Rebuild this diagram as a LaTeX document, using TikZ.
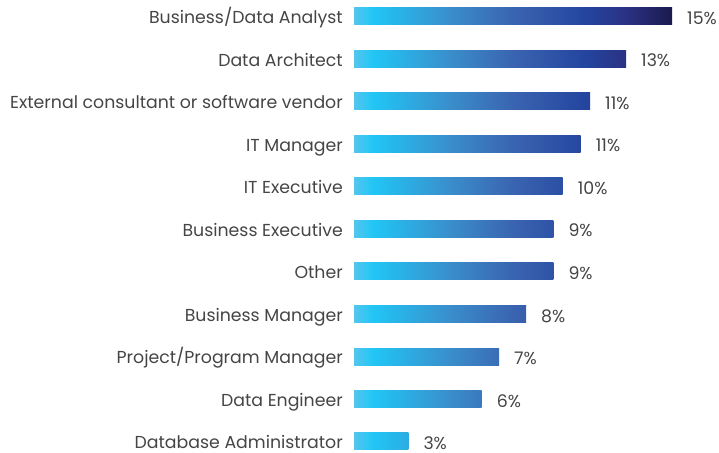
\documentclass[tikz,border=0pt]{standalone}
\usepackage{fontspec}
\setmainfont{Poppins}
\usetikzlibrary{positioning}

\definecolor{txtgray}{HTML}{454545}
\definecolor{barA}{HTML}{55C5EE}
\definecolor{barB}{HTML}{20C6F5}
\definecolor{barC}{HTML}{3A8ECB}
\definecolor{barD}{HTML}{3A64B0}
\definecolor{barE}{HTML}{2446A0}
\definecolor{barF}{HTML}{2A3285}
\definecolor{barG}{HTML}{1B1A4E}

% one gradient for the whole chart, 15% bar = full length
\pgfdeclarehorizontalshading{barshade}{100bp}{
  color(0bp)=(barA); color(25bp)=(barA); color(28bp)=(barB);
  color(40bp)=(barC); color(50bp)=(barD); color(61bp)=(barE);
  color(67.5bp)=(barF); color(75bp)=(barG); color(100bp)=(barG)}

\begin{document}
\begin{tikzpicture}[
    x=1bp, y=-1bp,
    bar/.style={anchor=west, minimum height=17bp, inner sep=0pt, outer sep=0pt,
      path picture={\shade[shading=barshade] (path picture bounding box.south west) rectangle ++(318bp,17bp);}},
    catlabel/.style={font=\fontsize{17.4}{20}\selectfont, txtgray, inner sep=0pt,
      text height=14.4bp, text depth=0pt},
    pctlabel/.style={font=\fontsize{17.4}{20}\selectfont, txtgray, inner sep=0pt,
      text height=16bp, text depth=0pt}
]
\useasboundingbox (0,0) rectangle (719,453);

% === Bars ===
\node[bar, minimum width=318bp] (bar1) at (354,16.5) {};
\node[bar, minimum width=272bp] (bar2) at (354,59) {};
\node[bar, minimum width=236bp] (bar3) at (354,101.5) {};
\node[bar, minimum width=226.7bp] (bar4) at (354,144) {};
\node[bar, minimum width=208.7bp] (bar5) at (354,186.5) {};
\node[bar, minimum width=199.3bp] (bar6) at (354,229) {};
\node[bar, minimum width=199.3bp] (bar7) at (354,271.5) {};
\node[bar, minimum width=172bp] (bar8) at (354,314) {};
\node[bar, minimum width=145bp] (bar9) at (354,356.5) {};
\node[bar, minimum width=127.7bp] (bar10) at (354,399) {};
\node[bar, minimum width=54.3bp] (bar11) at (354,441) {};

% === Categories ===
\node[catlabel, left=11bp of bar1] (cat1) {Business/Data Analyst};
\node[catlabel, left=11bp of bar2] (cat2) {Data Architect};
\node[catlabel, left=11bp of bar3] (cat3) {External consultant or software vendor};
\node[catlabel, left=11bp of bar4] (cat4) {IT Manager};
\node[catlabel, left=11bp of bar5] (cat5) {IT Executive};
\node[catlabel, left=11bp of bar6] (cat6) {Business Executive};
\node[catlabel, left=11bp of bar7] (cat7) {Other\ };
\node[catlabel, left=11bp of bar8] (cat8) {Business Manager};
\node[catlabel, left=11bp of bar9] (cat9) {Project/Program Manager};
\node[catlabel, left=11bp of bar10] (cat10) {Data Engineer};
\node[catlabel, left=11bp of bar11] (cat11) {Database Administrator};

% === Percentages ===
\node[pctlabel, right=15bp of bar1] (pct1) {15\%};
\node[pctlabel, right=15bp of bar2] (pct2) {13\%};
\node[pctlabel, right=15bp of bar3] (pct3) {11\%};
\node[pctlabel, right=15bp of bar4] (pct4) {11\%};
\node[pctlabel, right=15bp of bar5] (pct5) {10\%};
\node[pctlabel, right=15bp of bar6] (pct6) {9\%};
\node[pctlabel, right=15bp of bar7] (pct7) {9\%};
\node[pctlabel, right=15bp of bar8] (pct8) {8\%};
\node[pctlabel, right=15bp of bar9] (pct9) {7\%};
\node[pctlabel, right=15bp of bar10] (pct10) {6\%};
\node[pctlabel, right=15bp of bar11] (pct11) {3\%};

\end{tikzpicture}
\end{document}
